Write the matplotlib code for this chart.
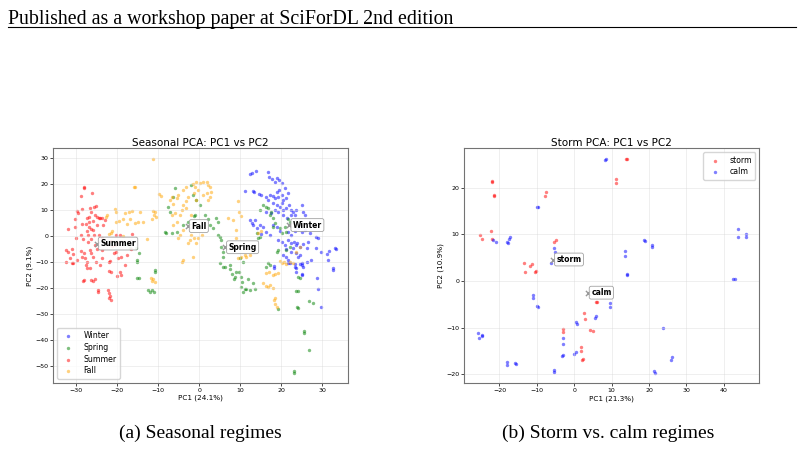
import matplotlib
matplotlib.use("Agg")
import matplotlib.pyplot as plt
from matplotlib.lines import Line2D

# ---- seasonal PCA (left) ----
winter_x = [12.5, 12.8, 13.8, 16.8, 17.1, 17.7, 18.5, 19.0, 19.5, 20.3, 11.1, 13.2, 13.3, 12.4, 12.8,
            13.2, 13.6, 14.0, 14.6, 15.2, 16.4, 17.2, 17.9, 18.5, 19.3, 20.1, 18.9, 19.5, 20.9, 21.7,
            21.3, 20.5, 20.3, 16.8, 18.0, 18.9, 19.7, 20.5, 21.3, 22.0, 22.5, 22.9, 23.3, 23.7, 25.0,
            25.4, 25.8, 16.4, 17.6, 18.5, 19.3, 20.5, 21.5, 22.3, 14.8, 15.6, 16.4, 15.2, 17.2, 18.0,
            18.9, 19.7, 21.7, 22.5, 23.3, 24.1, 25.0, 25.8, 27.0, 28.6, 29.0, 21.7, 22.5, 23.1, 23.6,
            23.9, 24.6, 25.4, 26.2, 26.6, 19.3, 20.3, 20.9, 21.3, 22.5, 22.9, 23.7, 24.1, 24.7, 20.5,
            21.3, 21.7, 22.1, 23.3, 23.7, 25.0, 25.4, 26.2, 27.4, 28.6, 29.8, 31.1, 31.7, 31.5, 32.7,
            33.1, 33.3, 28.8, 29.0, 29.7, 18.2, 18.2, 25.0, 25.1, 21.7, 23.3, 23.6, 24.6, 25.2, 32.7]
winter_y = [23.6, 24.0, 25.0, 24.6, 22.7, 21.8, 20.8, 22.3, 21.5, 20.2, 17.2, 17.2, 17.0, 6.1, 4.9,
            4.2, 6.1, 2.9, 16.0, 15.7, 15.1, 15.7, 15.5, 14.4, 15.1, 15.7, 17.0, 17.6, 18.3, 16.3,
            14.7, 13.8, 12.5, 13.8, 12.5, 11.9, 11.2, 10.0, 10.9, 11.9, 10.0, 9.3, 8.0, 10.0, 11.9,
            9.3, 8.0, 9.3, 8.7, 10.0, 9.1, 8.0, 6.8, 8.0, 4.2, 3.6, 1.7, 0.6, 0.4, 4.2,
            3.6, 1.9, 1.7, 0.4, 1.9, 2.9, 1.7, 2.3, 1.0, -0.3, -0.9, -1.5, -2.8, -2.2, -3.4,
            -2.8, -4.1, -3.2, -4.7, -2.2, -1.5, -2.2, -3.4, -5.0, -6.0, -4.7, -6.6, -7.9, -7.3, -7.3,
            -7.9, -9.2, -10.5, -11.7, -13.7, -10.5, -11.7, -9.8, -9.2, -4.7, -6.0, -6.8, -5.7, -9.2, -12.4,
            -4.7, -5.0, -16.2, -20.3, -27.1, -11.5, -12.1, -14.4, -14.8, -10.3, -10.6, -12.3, -10.6, -11.0, -13.2]

spring_x = [-8.4, -8.1, -10.9, -10.7, -12.4, -12.0, -11.4, -11.1, -15.3, -15.1, -14.8, -17.6, -16.9, -15.4,
            -15.1, -14.8, -5.9, -6.3, -7.6, -7.2, -6.7, -5.5, -3.9, -2.7, -1.9, -1.5, -0.7, 0.2, -1.3,
            -1.1, 1.4, 2.2, 2.6, 3.3, 4.2, 4.6, 4.6, 5.0, 5.4, 5.4, 5.7, 5.9, 5.0, 5.9, 7.5, 7.6,
            7.9, 8.7, 8.5, 9.8, 10.3, 10.4, 10.3, 11.1, 10.7, 11.5, 12.4, 12.0, 13.2, 13.6, 9.9, 10.7,
            9.1, 6.3, 14.4, 14.8, 14.0, 14.8, 15.6, 16.4, 16.8, 17.2, 17.6, 18.0, 18.5, 18.0, 19.7,
            20.1, 20.9, 21.3, 21.7, 22.1, 16.8, 16.4, 17.2, 19.3, 19.0, 21.3, 22.1, 24.1, 24.7, 23.8,
            24.1, 26.8, 27.7, 19.2, 25.6, 25.6, 26.8, 23.1, 23.1, 23.7, 24.0]
spring_y = [1.4, 1.0, -13.0, -13.7, -20.7, -21.3, -20.7, -21.3, -9.8, -9.2, -6.6, -3.2, -4.7, -4.7,
            -16.0, -16.2, 18.3, 15.1, 11.2, 9.3, 1.0, 1.7, 4.2, 5.5, 19.5, 15.7, 13.8, 11.9, 7.8,
            8.0, 8.0, 6.5, 4.2, 2.9, 6.8, 5.5, 0.4, -0.3, -1.5, -4.1, -6.0, -7.9, -10.2, -11.7, -11.2, -12.5,
            -14.4, -15.7, -16.3, -13.8, -15.7, -17.6, -19.5, -20.2, -21.5, -20.4, -20.6, -16.3, -18.0, -20.2, -8.6, -9.8,
            -13.7, -11.7, -0.9, -0.3, 1.0, 10.0, 11.9, 11.2, 10.6, 8.0, 9.3, 6.8, 4.9, 3.6, 2.9,
            1.0, 3.6, 1.4, 6.6, 5.5, -10.5, -11.7, -11.1, -5.4, -6.0, -5.4, -4.1, -15.6, -16.2, -27.3,
            -27.5, -24.9, -25.5, -28.1, -36.3, -37.3, -43.7, -51.6, -52.3, -20.9, -21.2]

summer_x = [-28.1, -28.0, -28.9, -26.1, -29.8, -29.5, -28.7, -30.4, -32.0, -30.2, -28.5, -27.7, -27.5,
            -26.8, -27.0, -26.7, -26.4, -25.6, -25.3, -25.4, -25.0, -25.9, -24.4, -24.2, -23.6, -27.0,
            -27.5, -26.5, -27.1, -26.0, -24.9, -25.7, -26.5, -27.1, -23.0, -23.4, -24.4, -23.8, -28.9,
            -28.3, -30.1, -32.4, -32.0, -31.1, -30.7, -31.5, -32.4, -31.1, -29.8, -28.9, -28.7, -28.0,
            -27.8, -27.5, -27.7, -27.3, -26.3, -25.9, -25.4, -25.0, -26.7, -23.7, -23.6, -24.2, -25.2,
            -22.1, -21.8, -20.8, -20.2, -21.2, -21.6, -20.5, -20.0, -20.2, -22.0, -21.5, -20.0, -19.2,
            -19.3, -19.3, -28.3, -28.1, -26.5, -25.9, -25.5, -24.8, -24.8, -22.2, -22.0, -21.8, -21.6,
            -21.9, -19.7, -19.2, -17.7, -16.7, -16.5, -18.0, -30.8, -26.7]
summer_y = [18.5, 18.8, 15.5, 16.6, 9.6, 8.7, 10.3, 6.4, 2.6, 3.6, 4.5, 4.6, 6.8,
            7.3, 5.5, 10.6, 9.1, 11.2, 11.5, 8.0, 7.4, 5.6, 7.0, 7.0, 6.8, 3.6,
            1.9, 2.7, 0.4, 2.3, 4.2, 0.4, -1.1, -2.2, 6.1, 4.2, 0.4, -0.9, 0.4,
            -1.1, -0.6, -5.4, -6.3, -5.0, -6.8, -8.6, -9.8, -10.5, -9.2, -5.7, -7.9, -6.6,
            -8.6, -9.8, -11.1, -12.1, -6.6, -7.9, -3.4, -5.0, -5.4, -5.4, -8.6, -11.1, -9.8,
            -10.1, -9.6, -6.6, -6.0, -3.7, -1.9, -3.4, -2.2, 0.4, -13.4, -13.7, -15.2, -14.9,
            -13.7, 0.4, -17.2, -17.0, -16.9, -17.2, -16.5, -20.7, -21.3, -20.7, -22.0, -23.0, -24.5,
            -23.9, -8.3, -7.9, -7.3, -5.0, 0.8, -11.1, -10.2, -12.3]

fall_x = [-11.2, -15.9, -15.7, -9.8, -9.4, -11.2, -10.8, -11.1, -10.6, -11.6, -12.8, -20.6, -20.2, -20.3,
          -19.6, -18.5, -17.6, -16.9, -18.1, -17.1, -16.5, -15.7, -14.9, -14.5, -13.8, -22.1, -21.6, -21.2,
          -22.6, -22.8, -18.5, -11.8, -11.2, -11.5, -10.8, -3.9, -4.3, -5.1, -6.3, -5.5, -6.7, -5.9, -6.5,
          -7.2, -6.7, -5.5, -5.1, -3.9, -3.1, -1.6, -1.1, -0.7, 0.2, 1.0, 1.8, 2.2, 2.6, 3.0, 2.6,
          2.2, 1.0, 1.8, -0.2, -1.3, -0.7, -2.7, -3.1, -3.9, -3.1, -4.3, -4.7, -1.9, -1.9, -2.3, -2.7,
          -1.3, -0.7, -0.2, 0.6, -3.9, -4.7, -1.5, 9.5, 9.7, 10.3, 8.3, 7.1, 9.0, 9.1, 12.4, 14.4, 15.0,
          9.5, 10.1, 11.1, 11.5, 16.4, 17.1, 17.9, 18.5, 19.3, 17.2, 16.8, 18.0, 18.5, 18.3, 18.6, 18.9,
          19.7, 20.1, 20.7, 21.3, 22.1, 22.9, 23.7, 24.6, 15.5, 16.2]
fall_y = [29.4, 18.8, 18.9, 16.0, 15.5, 9.6, 9.1, 8.0, 7.4, 6.5, -1.1, 10.3, 9.3, 5.5,
          5.7, 6.5, 4.7, 6.5, 8.7, 9.1, 9.6, 4.9, 5.5, 9.3, 5.5, 0.6, 1.0, 1.9,
          8.0, 7.4, 0.0, -16.0, -16.5, -17.2, -17.5, -9.2, -9.8, -0.9, 4.2, 5.5, 8.0, 8.7, 12.1,
          13.8, 15.1, 14.4, 15.7, 17.6, 18.8, 19.8, 18.9, 20.8, 20.2, 20.6, 20.8, 19.5, 18.9, 17.0, 15.1,
          13.8, 15.7, 16.3, 17.6, 16.3, 13.8, 15.1, 13.4, 11.9, 10.6, 10.0, 8.0, 8.0, 0.4, -1.5, -2.8,
          -0.9, -2.8, -0.9, 0.4, 2.3, 0.4, -7.9, 13.3, 9.2, 7.5, 6.3, 6.9, 2.4, -0.8, -7.2, 1.1, 1.8,
          -8.3, -7.9, -7.3, -7.9, -14.3, -13.7, -14.9, -14.7, -14.3, -18.8, -19.7, -20.1, -23.6, -24.4, -26.2, -27.1,
          -9.6, -10.5, -9.8, -10.9, -9.8, -10.5, -6.0, -4.1, -18.0, -19.3]

season_names = ["Winter", "Spring", "Summer", "Fall"]
season_colors = ["blue", "green", "red", "orange"]
season_cx = [22.0, 6.3, -25.0, -2.8]
season_cy = [4.2, -4.3, -2.9, 3.8]

# ---- storm PCA (right) ----
storm_x = [-25.1, -24.6, -21.9, -22.0, -21.5, -21.4, -22.3, -22.0, -13.5, -13.3, -11.8, -11.4, -10.6,
           -10.2, -7.6, -7.8, -5.3, -4.8, 11.1, 11.1, 13.9, 14.0, 6.0, 5.8, 2.5, 2.9, -2.9, -2.9,
           4.2, 4.9, 1.9, 1.9, 2.0, 2.3]
storm_y = [9.9, 9.0, 21.1, 21.3, 18.2, 18.4, 10.6, 9.0, 3.8, 2.0, 3.2, 3.6, 1.9,
           2.1, 19.1, 18.2, 8.3, 8.8, 21.8, 20.9, 26.1, 26.1, -4.6, -4.6, -6.9, -8.2, -10.3, -11.0,
           -10.5, -10.6, -14.1, -14.9, -16.9, -16.8]
calm_x = [8.3, 8.5, -9.9, -9.8, -21.6, -21.0, -17.9, -17.6, -17.2, -17.4, -5.3, -5.1, -6.3, 13.7,
          13.6, 14.1, 14.2, 18.6, 18.8, 20.9, 20.9, 42.5, 43.0, 43.7, 43.8, 46.0, 46.0, -11.1, -11.1,
          -10.0, -9.8, 9.7, 9.7, 5.9, 5.6, 0.4, 0.7, -2.9, -3.0, -2.9, -3.3, 0.4, 0.0, -25.7, -25.4,
          -24.8, -24.6, -18.0, -17.9, -15.8, -15.6, -5.5, -5.3, 21.3, 21.6, 23.8, 26.1, 25.8]
calm_y = [25.9, 26.1, 15.9, 15.8, 8.8, 8.3, 8.4, 8.1, 9.5, 8.9, 7.1, 6.2, 3.9, 6.4,
          5.4, 1.4, 1.3, 8.7, 8.5, 7.6, 7.3, 0.5, 0.5, 11.1, 9.5, 10.0, 9.5, -2.9, -3.6,
          -5.4, -5.5, -4.7, -5.6, -7.4, -8.0, -8.7, -9.3, -12.1, -13.4, -15.9, -16.0, -15.1, -15.6, -11.1, -12.1,
          -11.6, -11.8, -17.3, -17.9, -17.6, -17.7, -19.1, -19.4, -19.2, -19.6, -10.1, -16.2, -16.9]
regime_names = ["storm", "calm"]
regime_colors = ["red", "blue"]
regime_cx = [-5.7, 3.6]
regime_cy = [4.6, -2.5]

fig = plt.figure(figsize=(8.04, 4.5), dpi=100)

# page header
fig.text(0.010, 0.957, "Published as a workshop paper at SciForDL 2nd edition",
         family="Liberation Serif", fontsize=14.3, va="center", ha="left")
fig.add_artist(Line2D([0.010, 0.990], [0.940, 0.940], color="black", lw=0.8))


def style_axes(ax):
    ax.grid(True, color="0.85", lw=0.5, alpha=0.6)
    ax.tick_params(labelsize=4.5, length=2, width=0.5, pad=1.5)
    for sp in ax.spines.values():
        sp.set_color("0.45")
        sp.set_linewidth(0.8)


def label_centroid(ax, x, y, name):
    ax.scatter([x], [y], marker="x", color="0.6", s=14, lw=1, zorder=4)
    ax.annotate(name, (x, y), xytext=(2.5, 0), textcoords="offset points",
                fontsize=5.5, fontweight="bold", va="center", ha="left", zorder=5,
                bbox=dict(boxstyle="round,pad=0.25", fc="white", ec="0.6", lw=0.6, alpha=0.9))


ax1 = fig.add_axes([0.0663, 0.1496, 0.3665, 0.5208])
season_x = [winter_x, spring_x, summer_x, fall_x]
season_y = [winter_y, spring_y, summer_y, fall_y]
for xs, ys, name, col in zip(season_x, season_y, season_names, season_colors):
    ax1.scatter(xs, ys, s=6, color=col, alpha=0.5, lw=0, label=name)
for cx, cy, name in zip(season_cx, season_cy, season_names):
    label_centroid(ax1, cx, cy, name)
ax1.set_xlim(-35.6, 36.3)
ax1.set_ylim(-56.2, 33.6)
ax1.set_xticks([-30, -20, -10, 0, 10, 20, 30])
ax1.set_yticks([-50, -40, -30, -20, -10, 0, 10, 20, 30])
ax1.set_title("Seasonal PCA: PC1 vs PC2", fontsize=7.5, pad=2)
ax1.set_xlabel("PC1 (24.1%)", fontsize=5.2, labelpad=1.5)
ax1.set_ylabel("PC2 (9.1%)", fontsize=5.2, labelpad=1.5)
ax1.legend(loc="lower left", fontsize=5.6, markerscale=1.0, handletextpad=0.9,
           borderpad=0.45, labelspacing=0.35, framealpha=0.8)
style_axes(ax1)

ax2 = fig.add_axes([0.5775, 0.1482, 0.3669, 0.5222])
regime_x = [storm_x, calm_x]
regime_y = [storm_y, calm_y]
for xs, ys, name, col in zip(regime_x, regime_y, regime_names, regime_colors):
    ax2.scatter(xs, ys, s=6, color=col, alpha=0.5, lw=0, label=name)
for cx, cy, name in zip(regime_cx, regime_cy, regime_names):
    label_centroid(ax2, cx, cy, name)
ax2.set_xlim(-29.4, 49.5)
ax2.set_ylim(-21.9, 28.4)
ax2.set_xticks([-20, -10, 0, 10, 20, 30, 40])
ax2.set_yticks([-20, -10, 0, 10, 20])
ax2.set_title("Storm PCA: PC1 vs PC2", fontsize=7.5, pad=2)
ax2.set_xlabel("PC1 (21.3%)", fontsize=5.2, labelpad=1.5)
ax2.set_ylabel("PC2 (10.9%)", fontsize=5.2, labelpad=1.5)
ax2.legend(loc="upper right", fontsize=5.6, handletextpad=0.9,
           borderpad=0.45, labelspacing=0.35, framealpha=0.8)
style_axes(ax2)

# sub-captions
fig.text(0.249, 0.038, "(a) Seasonal regimes", family="Liberation Serif", fontsize=14,
         ha="center", va="center")
fig.text(0.757, 0.038, "(b) Storm vs. calm regimes", family="Liberation Serif", fontsize=14,
         ha="center", va="center")

fig.savefig("out.png", dpi=100)
